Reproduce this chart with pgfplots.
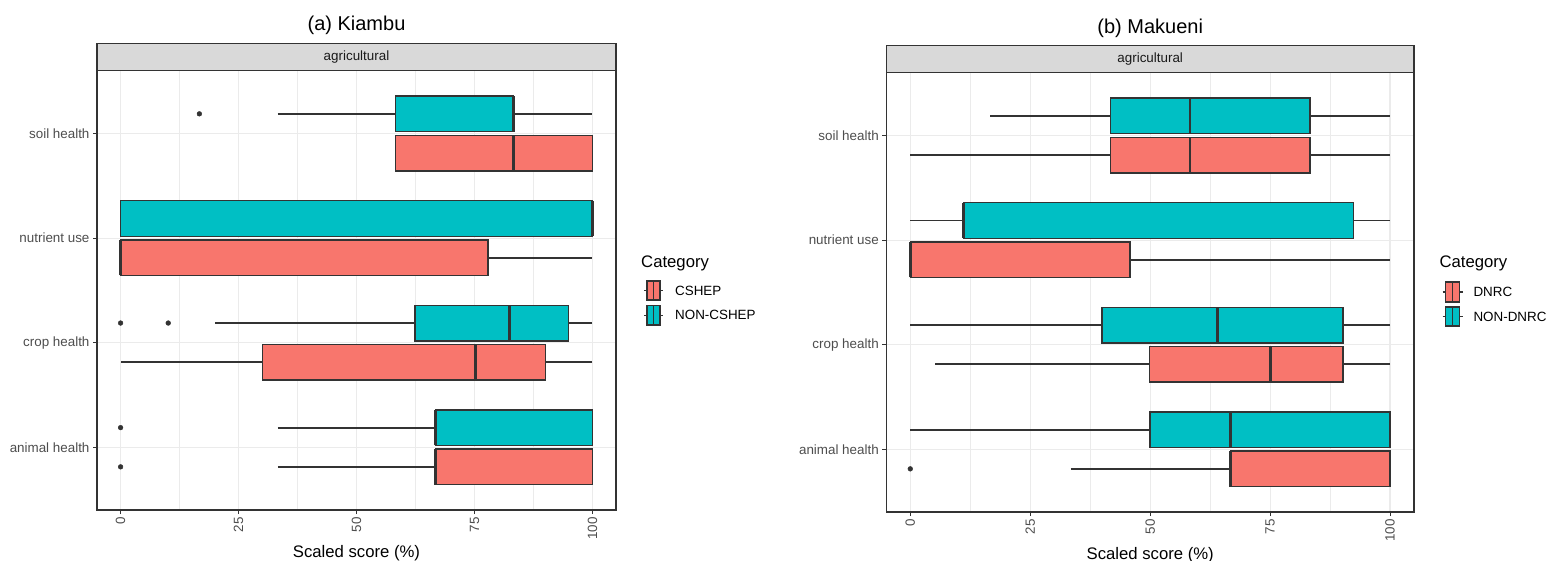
\documentclass[border=0pt]{standalone}
\usepackage{fontspec}
\setmainfont{Liberation Sans}
\usepackage{pgfplots}
\pgfplotsset{compat=1.18}
\usepgfplotslibrary{statistics}
\definecolor{cred}{HTML}{F8766D}
\definecolor{ccyan}{HTML}{00BFC4}
\definecolor{dk}{HTML}{333333}
\definecolor{gridc}{HTML}{EBEBEB}
\definecolor{stripc}{HTML}{D9D9D9}
\definecolor{tickc}{HTML}{4D4D4D}
\definecolor{stript}{HTML}{1A1A1A}
\newcommand{\tickfont}{\fontsize{13.4}{16}\selectfont}
\newcommand{\labfont}{\fontsize{16.7}{20}\selectfont}
\newcommand{\titfont}{\fontsize{20}{24}\selectfont}
\pgfplotsset{
 bxstyle/.style={
  scale only axis, xmin=-5, xmax=105, ymin=0.4, ymax=4.6,
  xtick={0,25,50,75,100}, minor xtick={12.5,37.5,62.5,87.5},
  xticklabels={0,25,50,75,100},
  ytick={1,2,3,4}, yticklabels={animal health,crop health,nutrient use,soil health},
  xmajorgrids, xminorgrids, ymajorgrids,
  major grid style={gridc, line width=1.1pt},
  minor grid style={gridc, line width=0.6pt},
  axis line style={dk, line width=1.3pt},
  tick align=outside, xtick pos=bottom, ytick pos=left,
  major tick length=4pt, minor tick length=0pt,
  major tick style={dk, line width=1pt},
  tick label style={font=\tickfont, text=tickc},
  xticklabel style={rotate=90, anchor=east},
  /pgf/number format/assume math mode=true,
  boxplot/draw direction=x,
  boxplot/whisker extend=0,
  boxplot/every median/.style={line width=2.6pt},
  boxplot/every box/.style={line width=1.4pt},
  boxplot/every whisker/.style={line width=1.8pt},
 },
 outl/.style={only marks, mark=*, mark size=2.4pt, mark options={fill=dk, draw=dk}},
}
% color, position, lower whisker, Q1, median, Q3, upper whisker
\newcommand{\bx}[7]{%
\addplot[fill=#1, draw=dk, boxplot prepared={draw position=#2, box extend=0.34,
 lower whisker=#3, lower quartile=#4, median=#5, upper quartile=#6, upper whisker=#7}] coordinates {};}
\begin{document}
\begin{tikzpicture}
\useasboundingbox (0,0) rectangle (1548pt,560pt);
% ---------- Panel (a) Kiambu ----------
\begin{axis}[bxstyle, at={(97pt,50pt)}, anchor=south west, width=519pt, height=439.3pt]
% soil health
\bx{ccyan}{4.1875}{33.3}{58.3}{83.3}{83.3}{100}
\bx{cred}{3.8125}{58.3}{58.3}{83.3}{100}{100}
% nutrient use
\bx{ccyan}{3.1875}{0}{0}{100}{100}{100}
\bx{cred}{2.8125}{0}{0}{0}{77.9}{100}
% crop health
\bx{ccyan}{2.1875}{20.1}{62.4}{82.4}{94.9}{100}
\bx{cred}{1.8125}{0}{30.1}{75.2}{90.1}{100}
% animal health
\bx{ccyan}{1.1875}{33.3}{66.7}{66.7}{100}{100}
\bx{cred}{0.8125}{33.3}{66.7}{66.7}{100}{100}
\addplot[outl] coordinates {(16.7,4.1875) (0,2.1875) (10.1,2.1875) (0,1.1875) (0,0.8125)};
\end{axis}
% ---------- Panel (b) Makueni ----------
\begin{axis}[bxstyle, at={(886.3pt,48pt)}, anchor=south west, width=527.7pt, height=439.3pt]
\bx{ccyan}{4.1875}{16.7}{41.7}{58.3}{83.3}{100}
\bx{cred}{3.8125}{0}{41.7}{58.3}{83.3}{100}
\bx{ccyan}{3.1875}{0}{11.1}{11.1}{92.4}{100}
\bx{cred}{2.8125}{0}{0}{0}{45.8}{100}
\bx{ccyan}{2.1875}{0}{40}{64}{90.2}{100}
\bx{cred}{1.8125}{5.1}{49.9}{75.1}{90.2}{100}
\bx{ccyan}{1.1875}{0}{50}{66.7}{100}{100}
\bx{cred}{0.8125}{33.4}{66.7}{66.7}{100}{100}
\addplot[outl] coordinates {(0,0.8125)};
\end{axis}
% ---------- strips ----------
\draw[fill=stripc, draw=dk, line width=1.3pt] (97pt,489.3pt) rectangle (616pt,516.7pt);
\node[font=\tickfont, text=stript] at (356.5pt,503pt) {agricultural};
\draw[fill=stripc, draw=dk, line width=1.3pt] (886.3pt,487.3pt) rectangle (1414pt,514.7pt);
\node[font=\tickfont, text=stript] at (1150.2pt,501pt) {agricultural};
% ---------- titles ----------
\node[font=\titfont] at (356.5pt,534.5pt) {(a) Kiambu};
\node[font=\titfont] at (1150.2pt,532pt) {(b) Makueni};
% ---------- x labels ----------
\node[font=\labfont, anchor=north, inner sep=0pt] at (356.5pt,15pt) {Scaled score (\%)};
\node[font=\labfont, anchor=north, inner sep=0pt] at (1150.2pt,13pt) {Scaled score (\%)};
% ---------- legends ----------
\node[font=\labfont, anchor=base west, inner sep=0pt] at (641pt,292pt) {Category};
\draw[dk, line width=1.3pt] (644pt,269.5pt) -- (663pt,269.5pt);
\draw[fill=cred, draw=dk, line width=1.4pt] (647pt,260pt) rectangle (660pt,279pt);
\draw[dk, line width=1.4pt] (653.5pt,260pt) -- (653.5pt,279pt);
\node[font=\tickfont, anchor=west, inner sep=0pt] at (675pt,269.5pt) {CSHEP};
\draw[dk, line width=1.3pt] (644pt,244.7pt) -- (663pt,244.7pt);
\draw[fill=ccyan, draw=dk, line width=1.4pt] (647pt,235pt) rectangle (660pt,254.3pt);
\draw[dk, line width=1.4pt] (653.5pt,235pt) -- (653.5pt,254.3pt);
\node[font=\tickfont, anchor=west, inner sep=0pt] at (675pt,244.7pt) {NON-CSHEP};
%
\node[font=\labfont, anchor=base west, inner sep=0pt] at (1439.3pt,292pt) {Category};
\draw[dk, line width=1.3pt] (1442.5pt,268pt) -- (1462.5pt,268pt);
\draw[fill=cred, draw=dk, line width=1.4pt] (1445.7pt,258pt) rectangle (1459.3pt,278pt);
\draw[dk, line width=1.4pt] (1452.5pt,258pt) -- (1452.5pt,278pt);
\node[font=\tickfont, anchor=west, inner sep=0pt] at (1473.3pt,268pt) {DNRC};
\draw[dk, line width=1.3pt] (1442.5pt,243.5pt) -- (1462.5pt,243.5pt);
\draw[fill=ccyan, draw=dk, line width=1.4pt] (1445.7pt,234pt) rectangle (1459.3pt,253pt);
\draw[dk, line width=1.4pt] (1452.5pt,234pt) -- (1452.5pt,253pt);
\node[font=\tickfont, anchor=west, inner sep=0pt] at (1473.3pt,243.5pt) {NON-DNRC};
\end{tikzpicture}
\end{document}
